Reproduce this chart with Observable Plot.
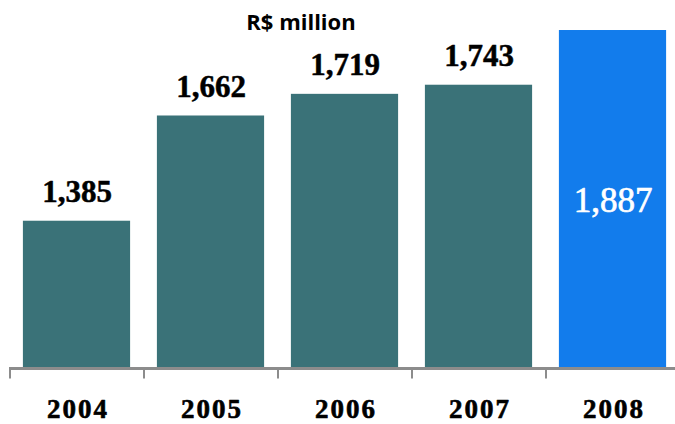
<!DOCTYPE html>
<html>
<head>
<meta charset="utf-8">
<script src="https://cdn.jsdelivr.net/npm/d3@7"></script>
<script src="https://cdn.jsdelivr.net/npm/@observablehq/plot@0.6"></script>
<style>
  html, body { margin: 0; padding: 0; background: #fff; }
  #wrap { position: relative; width: 675px; height: 424px; }
  #wrap svg { position: absolute; left: 0; top: 0; }
  #title { position: absolute; left: 0; width: 602px; top: 6px; text-align: center;
           font-family: "Open Sans", sans-serif; font-weight: 700; font-size: 22px; color: #000; z-index: 2; }
</style>
</head>
<body>
<div id="wrap"><div id="title">R$ million</div></div>
<script>
const years = [2004, 2005, 2006, 2007, 2008];
const values = [1385, 1662, 1719, 1743, 1887];
const labels = ["1,385", "1,662", "1,719", "1,743", "1,887"];
const highlight = [false, false, false, false, true];

const data = years.map((year, i) => ({year, value: values[i], label: labels[i], hi: highlight[i]}));
const tickYears = years.concat([years[years.length - 1] + 1]);

const baseline = 1000;
const teal = "#3a7278";
const blue = "#127cec";

const chart = Plot.plot({
  width: 675,
  height: 424,
  marginTop: 0,
  marginBottom: 57,
  marginLeft: 0,
  marginRight: 0,
  x: {type: "linear", domain: [2003.5, 2008.5], range: [9.5, 679.5], axis: null},
  y: {type: "linear", domain: [baseline, 1966], axis: null},
  marks: [
    Plot.rectY(data, {x1: d => d.year - 0.4, x2: d => d.year + 0.4, y1: baseline, y2: "value",
      fill: d => d.hi ? blue : teal}),
    Plot.ruleX(tickYears, {x: d => d - 0.5, y1: baseline, y2: baseline - 30, stroke: "#8c8c8c", strokeWidth: 2}),
    Plot.ruleY([baseline], {x1: 2003.5, x2: 2008.5, stroke: "#8c8c8c", strokeWidth: 3, dy: 1}),
    Plot.text(data.filter(d => !d.hi), {x: "year", y: "value", text: "label", dy: -29,
      fontFamily: "Liberation Serif", fontWeight: 700, fontSize: 31, fill: "#000",
      stroke: "#000", strokeWidth: 0.5,
      lineAnchor: "middle", textAnchor: "middle"}),
    Plot.text(data.filter(d => d.hi), {x: "year", y: d => (baseline + d.value) / 2, text: "label", dy: 2,
      fontFamily: "Liberation Serif", fontWeight: 400, fontSize: 35, fill: "#fff",
      stroke: "#fff", strokeWidth: 0.7,
      lineAnchor: "middle", textAnchor: "middle"}),
    Plot.text(years, {x: d => d, y: baseline, text: d => String(d), dy: 42, dx: 1,
      fontFamily: "Liberation Serif", fontWeight: 700, fontSize: 27, fill: "#000",
      stroke: "#000", strokeWidth: 0.6,
      lineAnchor: "middle", textAnchor: "middle"})
  ]
});
// slightly wider spacing for the year labels, as in the reference
const textGroups = chart.querySelectorAll('g[aria-label="text"]');
if (textGroups.length) textGroups[textGroups.length - 1].setAttribute("letter-spacing", "2");
document.getElementById("wrap").prepend(chart);
</script>
</body>
</html>
